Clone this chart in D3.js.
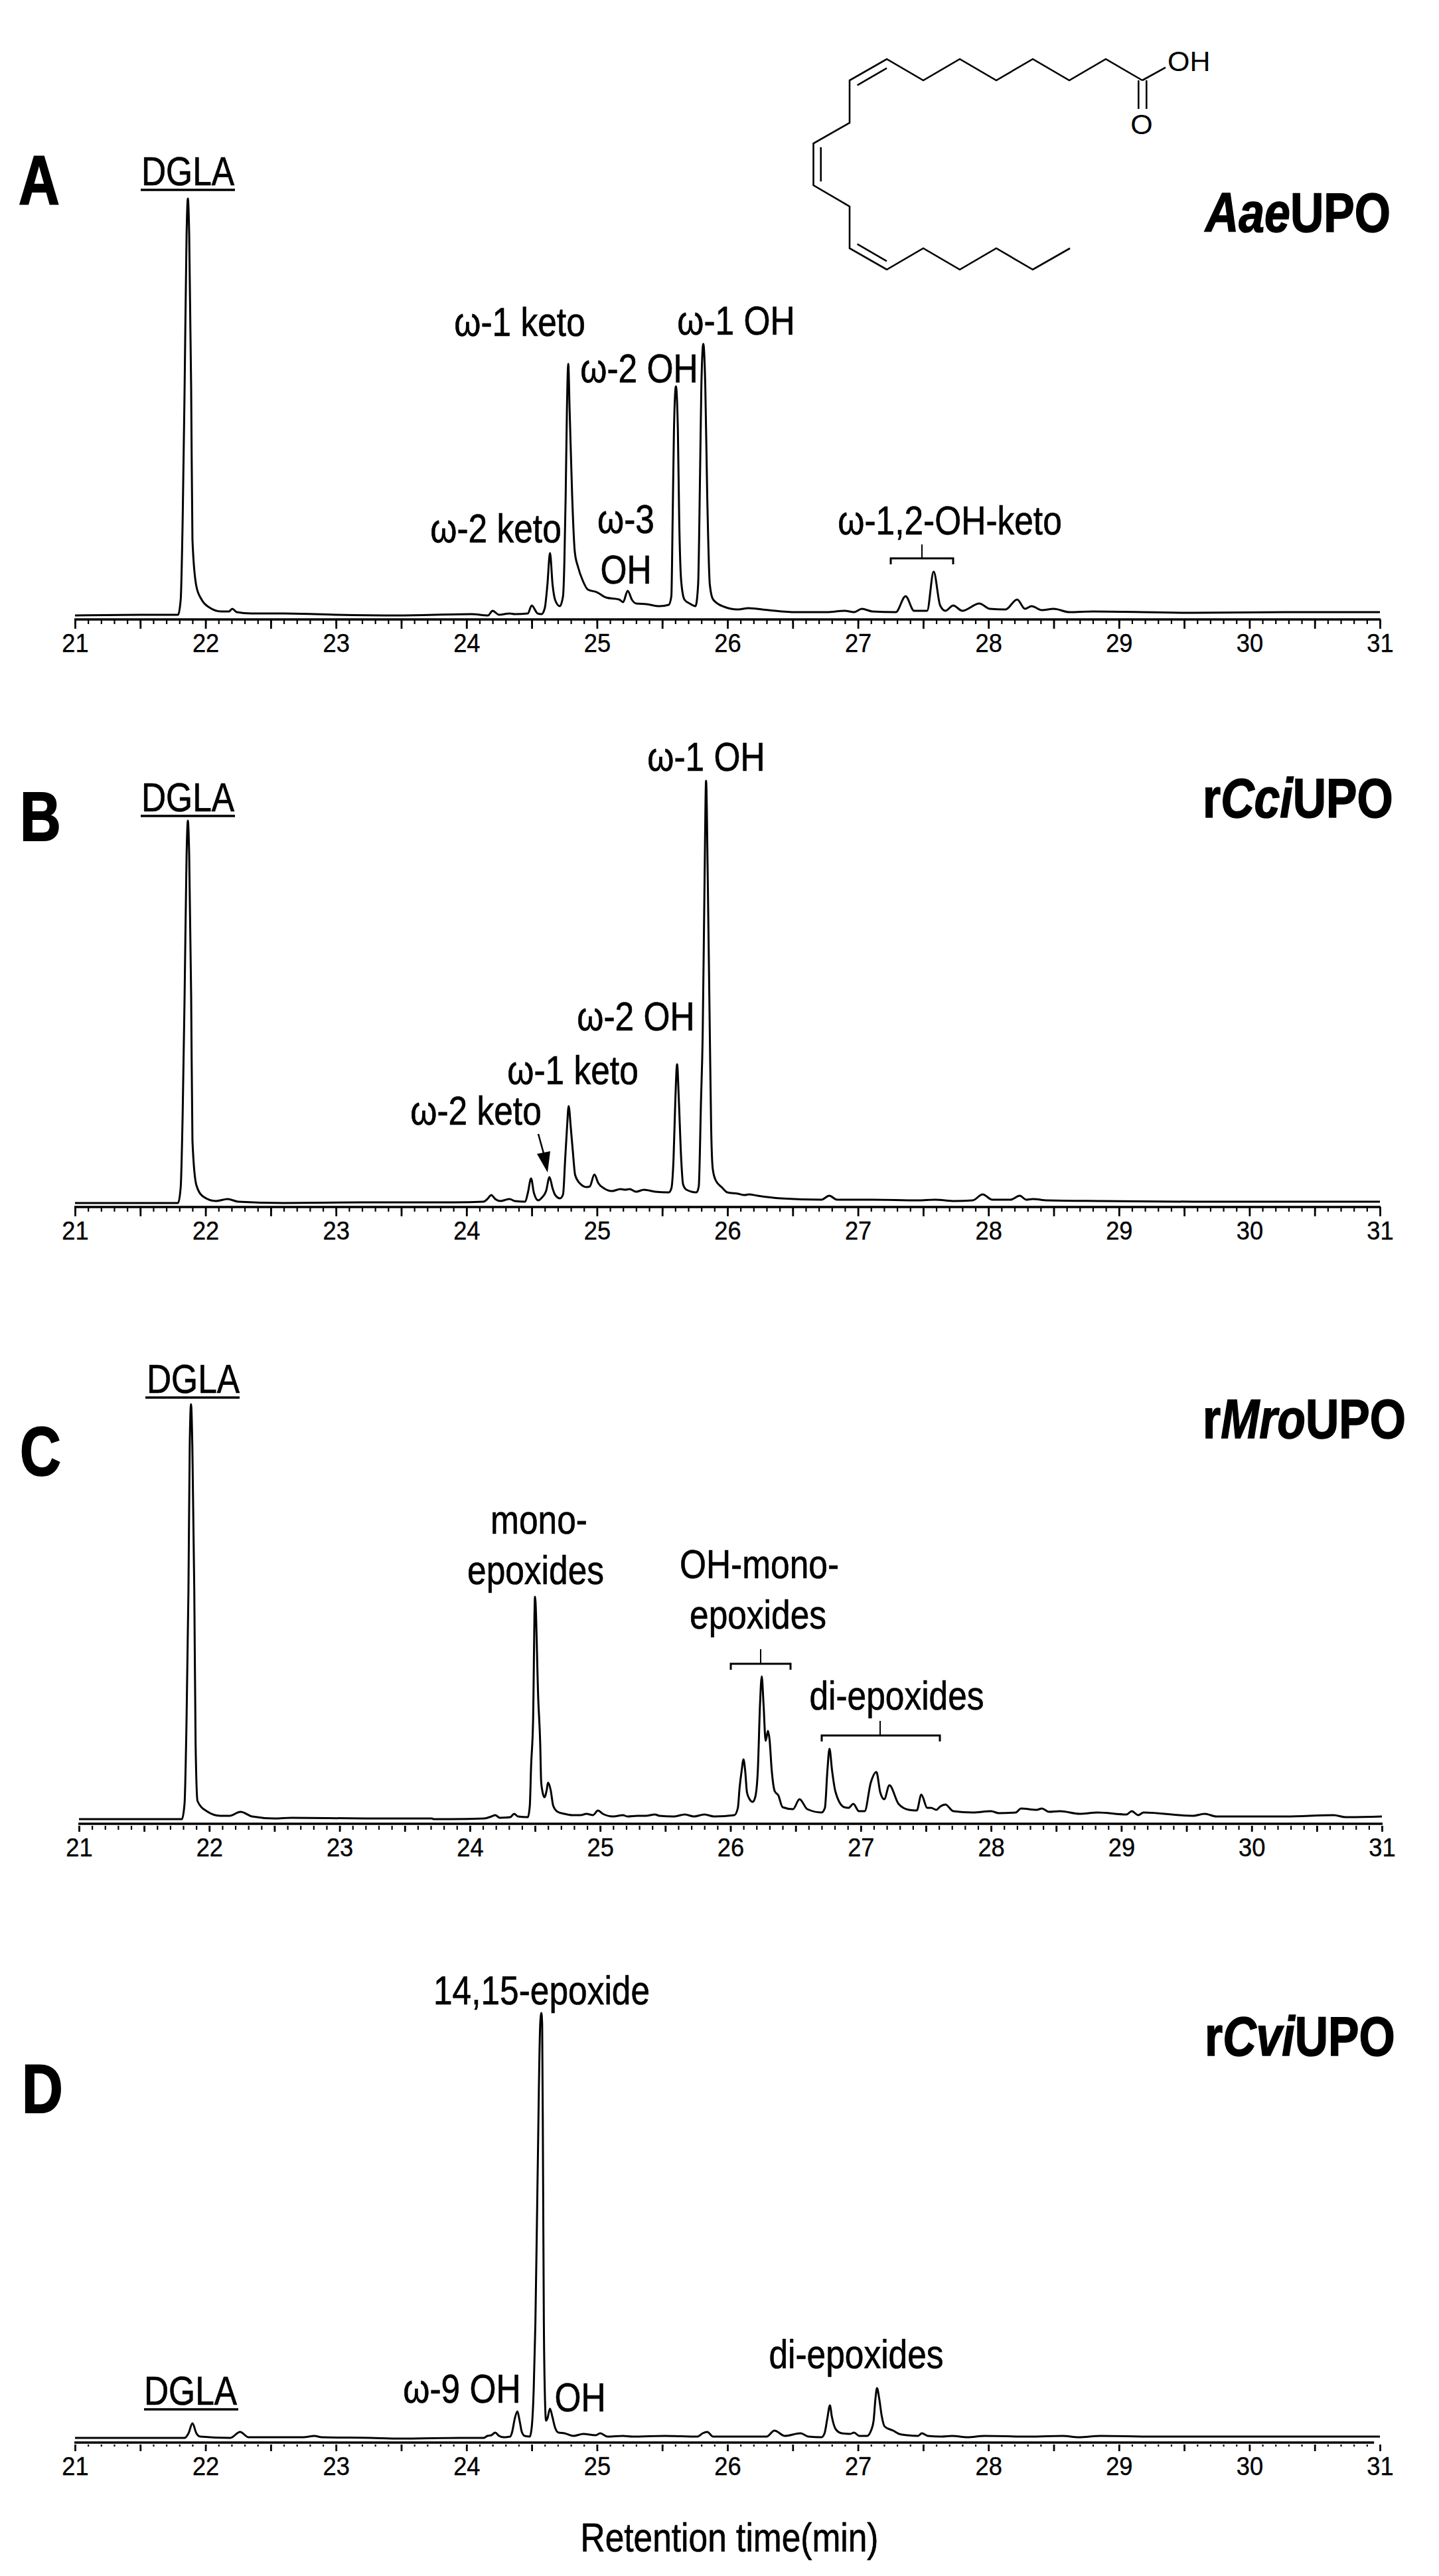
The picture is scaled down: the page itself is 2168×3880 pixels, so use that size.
<!DOCTYPE html>
<html>
<head>
<meta charset="utf-8">
<style>
html, body { margin: 0; padding: 0; background: #fff; }
svg { display: block; }
text { font-family: "Liberation Sans", Arial, sans-serif; fill: #000; }
.trace { fill: none; stroke: #000; stroke-width: 3; stroke-linejoin: round; }
.axisline { stroke: #000; stroke-width: 3.4; }
.tick line { stroke: #000; }
</style>
<script src="https://cdn.jsdelivr.net/npm/d3@7"></script>
</head>
<body>
<div id="chart"></div>
<script>
// retention time (min), signal (arbitrary units)
var traceA = [[21,6],[21.5,7],[21.79,7],[21.81,30],[21.825,150],[21.84,350],[21.855,580],[21.865,634],[21.875,580],[21.89,350],[21.9,120],[21.93,50],[21.97,30],[22.03,18],[22.12,12],[22.18,12],[22.205,16],[22.24,11],[22.35,9],[22.6,9],[23,7],[23.47,6],[24.04,8],[24.165,6],[24.2,13],[24.25,7],[24.33,9],[24.37,8],[24.47,9],[24.5,21],[24.545,9],[24.575,8],[24.6,17],[24.62,52],[24.64,100],[24.66,52],[24.68,29],[24.715,20],[24.74,35],[24.75,85],[24.76,185],[24.77,319],[24.78,385],[24.79,319],[24.81,185],[24.83,102],[24.855,79],[24.89,59],[24.93,45],[25,41],[25.07,33],[25.17,30],[25.2,26],[25.235,43],[25.27,29],[25.3,24],[25.38,23],[25.48,20],[25.55,22],[25.57,35],[25.58,152],[25.59,285],[25.605,351],[25.62,285],[25.63,152],[25.645,59],[25.67,30],[25.71,24],[25.755,20],[25.775,52],[25.79,219],[25.8,352],[25.815,415],[25.83,352],[25.845,185],[25.865,52],[25.89,30],[25.975,19],[26.08,15],[26.16,17],[26.315,14],[26.525,11],[26.76,11],[26.9,13],[26.97,11],[27.03,16],[27.11,12],[27.29,11],[27.365,35],[27.43,13],[27.53,13],[27.58,72],[27.63,21],[27.67,13],[27.73,21],[27.8,13],[27.93,24],[28.01,16],[28.13,15],[28.22,30],[28.28,16],[28.33,20],[28.41,14],[28.5,16],[28.62,11],[28.8,12],[29.57,10],[30.27,11],[31,11]];

var traceB = [[21,6],[21.5,6],[21.79,6],[21.81,30],[21.825,140],[21.84,320],[21.855,530],[21.865,582],[21.875,530],[21.89,320],[21.9,100],[21.93,33],[21.98,16],[22.08,9],[22.17,12],[22.25,8],[22.6,6],[23.2,7],[23.57,7],[23.91,7],[24.13,8],[24.16,12],[24.19,18],[24.22,12],[24.26,9],[24.33,12],[24.37,9],[24.45,8],[24.47,21],[24.495,43],[24.517,21],[24.55,10],[24.577,14],[24.61,24],[24.636,45],[24.66,28],[24.68,18],[24.717,13],[24.74,19],[24.756,71],[24.77,118],[24.783,152],[24.8,118],[24.815,84],[24.833,48],[24.867,36],[24.92,30],[24.945,31],[24.98,49],[25.01,36],[25.055,28],[25.115,24],[25.18,27],[25.217,26],[25.25,27],[25.3,23],[25.36,26],[25.447,23],[25.55,22],[25.57,28],[25.587,74],[25.6,158],[25.614,215],[25.628,158],[25.645,74],[25.66,34],[25.686,26],[25.763,22],[25.78,31],[25.797,158],[25.81,258],[25.825,500],[25.836,642],[25.85,480],[25.865,258],[25.875,120],[25.887,58],[25.908,41],[25.96,29],[26,22],[26.08,20],[26.13,18],[26.165,19],[26.23,17],[26.41,13],[26.72,11],[26.78,17],[26.84,11],[27.11,11],[27.46,10],[27.59,11],[27.74,9],[27.88,10],[27.955,19],[28.03,11],[28.17,11],[28.24,17],[28.29,11],[28.34,12],[28.45,10],[28.87,9],[29.57,8],[30.27,8],[31,8]];

var traceC = [[21,7],[21.5,7],[21.79,7],[21.81,30],[21.825,150],[21.84,350],[21.85,570],[21.86,632],[21.87,570],[21.885,350],[21.895,120],[21.91,34],[21.98,19],[22.085,12],[22.155,12],[22.24,18],[22.33,11],[22.5,8],[22.63,9],[23.2,8],[23.71,8],[23.72,7],[23.85,7],[24.11,8],[24.165,11],[24.195,13],[24.23,9],[24.31,10],[24.34,15],[24.37,11],[24.445,10],[24.46,27],[24.47,87],[24.485,154],[24.5,342],[24.525,187],[24.54,120],[24.547,64],[24.555,51],[24.572,40],[24.59,51],[24.6,62],[24.62,51],[24.64,27],[24.674,18],[24.725,15],[24.785,13],[24.85,13],[24.895,15],[24.945,13],[24.983,20],[25.02,15],[25.1,11],[25.175,13],[25.21,11],[25.285,12],[25.35,12],[25.42,14],[25.455,12],[25.565,11],[25.65,14],[25.72,11],[25.8,14],[25.875,11],[26.03,13],[26.057,24],[26.07,54],[26.086,80],[26.1,97],[26.113,80],[26.127,47],[26.147,37],[26.17,33],[26.19,40],[26.21,80],[26.227,180],[26.24,222],[26.254,180],[26.27,125],[26.288,140],[26.3,127],[26.317,80],[26.34,49],[26.367,43],[26.4,25],[26.48,22],[26.53,37],[26.59,22],[26.7,17],[26.725,24],[26.744,80],[26.76,113],[26.78,80],[26.805,49],[26.873,25],[26.907,24],[26.943,30],[26.986,19],[27.03,19],[27.077,62],[27.12,78],[27.15,47],[27.18,37],[27.22,58],[27.29,30],[27.37,21],[27.43,20],[27.465,44],[27.51,24],[27.54,24],[27.58,21],[27.61,26],[27.65,29],[27.71,19],[27.86,17],[28,19],[28.06,16],[28.19,17],[28.23,23],[28.35,21],[28.39,23],[28.445,18],[28.53,19],[28.68,15],[28.82,17],[29.04,14],[29.08,19],[29.13,13],[29.17,17],[29.55,12],[29.64,15],[29.73,11],[30.26,11],[30.63,13],[30.72,10],[31,11]];

var traceD = [[21,7],[21.84,7],[21.87,14],[21.9,29],[21.93,14],[21.96,9],[22.19,7],[22.265,16],[22.33,8],[22.75,8],[22.835,10],[22.89,8],[23.27,7],[23.49,6],[23.95,7],[24.13,7],[24.16,10],[24.19,11],[24.22,15],[24.25,10],[24.285,8],[24.335,9],[24.35,16],[24.37,36],[24.39,47],[24.407,33],[24.424,16],[24.446,10],[24.485,9],[24.5,23],[24.515,79],[24.528,179],[24.545,400],[24.565,630],[24.574,647],[24.58,630],[24.587,400],[24.593,179],[24.6,79],[24.61,33],[24.62,36],[24.64,51],[24.658,39],[24.678,23],[24.705,15],[24.75,14],[24.82,10],[24.895,13],[24.99,11],[25.025,14],[25.08,9],[25.2,10],[25.27,9],[25.52,10],[25.77,9],[25.81,14],[25.845,16],[25.89,9],[26.3,9],[26.36,18],[26.44,10],[26.56,14],[26.62,9],[26.72,8],[26.744,14],[26.765,36],[26.785,56],[26.8,39],[26.83,20],[26.875,14],[26.94,13],[26.97,15],[27.01,10],[27.07,10],[27.1,18],[27.12,33],[27.134,66],[27.146,82],[27.163,66],[27.183,39],[27.205,24],[27.27,18],[27.315,13],[27.38,11],[27.46,10],[27.49,14],[27.535,10],[27.64,9],[27.72,10],[27.84,8],[27.97,10],[28.315,9],[28.57,10],[28.69,8],[28.86,10],[29.26,9],[30,9],[31,9]];

var majorTicks = d3.range(21, 31.01, 0.5);
var minorTicks = d3.range(21, 31.01, 0.1);
var enzymesA = [["", "Aae", "UPO"]];
var enzymesB = [["r", "Cci", "UPO"]];
var enzymesC = [["r", "Mro", "UPO"]];
var enzymesD = [["r", "Cvi", "UPO"]];

// layout of the annotations, page pixels
var peakLabelsA = [["DGLA",283,279],["\u03c9-1 keto",783,506],["\u03c9-2 OH",963,576],["\u03c9-1 OH",1109,504],["\u03c9-2 keto",747,817],["\u03c9-3",943,803],["OH",943,879],["\u03c9-1,2-OH-keto",1431,805]];
var peakLabelsB = [["DGLA",283,1222],["\u03c9-1 OH",1064,1161],["\u03c9-2 OH",958,1552],["\u03c9-1 keto",863,1633],["\u03c9-2 keto",717,1694]];
var peakLabelsC = [["DGLA",291,2098],["mono-",812,2310],["epoxides",807,2386],["OH-mono-",1144,2377],["epoxides",1142,2453],["di-epoxides",1351,2575]];
var peakLabelsD = [["14,15-epoxide",816,3019],["DGLA",287,3622],["\u03c9-9 OH",696,3619],["OH",874,3632],["di-epoxides",1290,3567]];

var panels = [
  { letter: "A", letterX: 28, letterY: 307, name: enzymesA[0], nameX: 1816, nameY: 349, trace: traceA, labels: peakLabelsA,
    axisY: 933, x0: 113, x1: 2079, end: 31, gap: 0, majorLen: 14, minorLen: 7, underline: [212, 354, 286],
    brackets: [[1342, 1436, 841, 850, 1389, 820]] },
  { letter: "B", letterX: 30, letterY: 1266, name: enzymesB[0], nameX: 1812, nameY: 1231, trace: traceB, labels: peakLabelsB,
    axisY: 1818, x0: 113, x1: 2079, end: 31, gap: 0, majorLen: 14, minorLen: 7, underline: [212, 354, 1229], brackets: [] },
  { letter: "C", letterX: 30, letterY: 2222, name: enzymesC[0], nameX: 1812, nameY: 2166, trace: traceC, labels: peakLabelsC,
    axisY: 2747, x0: 119, x1: 2082, end: 31, gap: 3, majorLen: 9, minorLen: 6, underline: [219, 361, 2105],
    brackets: [[1101, 1191, 2506, 2515, 1146, 2484], [1238, 1416, 2614, 2623, 1326, 2592]] },
  { letter: "D", letterX: 33, letterY: 3182, name: enzymesD[0], nameX: 1815, nameY: 3096, trace: traceD, labels: peakLabelsD,
    axisY: 3679, x0: 113, x1: 2079, end: 30.95, gap: 3, majorLen: 10, minorLen: 3, underline: [217, 359, 3629], brackets: [] }
];

var svg = d3.select("#chart").append("svg").attr("width", 2168).attr("height", 3880);

var squeeze = 0.83; // the figure's lettering is narrow, same look as Arial Narrow

function label(text, cx, y, size) {
  return svg.append("text")
    .attr("transform", "translate(" + cx + "," + y + ") scale(" + squeeze + ",1)")
    .attr("text-anchor", "middle")
    .attr("font-size", size)
    .attr("stroke", "#000").attr("stroke-width", 0.7)
    .text(text);
}

panels.forEach(function(p) {
  var x = d3.scaleLinear().domain([21, 31]).range([p.x0, p.x1]);
  var y = d3.scaleLinear().domain([0, 700]).range([p.axisY, p.axisY - 700]);

  var line = d3.line()
    .x(function(d) { return x(d[0]); })
    .y(function(d) { return y(d[1]); })
    .curve(d3.curveMonotoneX);

  svg.append("path").datum(p.trace).attr("class", "trace").attr("d", line);

  // axis line is drawn on its own, panel D stops a little short
  svg.append("line").attr("class", "axisline")
    .attr("x1", x(21) - 1).attr("x2", x(p.end) + 1)
    .attr("y1", y(0)).attr("y2", y(0));

  var minor = d3.axisBottom(x).tickValues(minorTicks).tickFormat("").tickSizeOuter(0);
  var gMinor = svg.append("g").attr("transform", "translate(0," + p.axisY + ")").call(minor);
  gMinor.select(".domain").remove();
  gMinor.selectAll(".tick line")
    .attr("y1", p.gap).attr("y2", p.gap + p.minorLen).attr("stroke-width", 2.2);

  var major = d3.axisBottom(x).tickValues(majorTicks).tickSizeOuter(0)
    .tickFormat(function(d) { return d % 1 === 0 ? d : ""; });
  var gMajor = svg.append("g").attr("transform", "translate(0," + p.axisY + ")").call(major);
  gMajor.select(".domain").remove();
  gMajor.selectAll(".tick line")
    .attr("y1", p.gap).attr("y2", p.gap + p.majorLen).attr("stroke-width", 2.8);
  gMajor.selectAll(".tick text")
    .attr("y", 49).attr("dy", 0)
    .attr("transform", "scale(0.93,1)")
    .attr("font-size", 39)
    .attr("font-family", "Liberation Sans")
    .attr("stroke", "#000").attr("stroke-width", 0.4)
    .attr("fill", "#000");
  // scale() above would pull the number off its tick, so put it back
  gMajor.selectAll(".tick").each(function() {
    d3.select(this).select("text").attr("x", 0);
  });

  // panel letter
  svg.append("text")
    .attr("transform", "translate(" + p.letterX + "," + p.letterY + ") scale(" + squeeze + ",1)")
    .attr("font-size", 103).attr("font-weight", "bold")
    .attr("stroke", "#000").attr("stroke-width", 2).text(p.letter);

  // enzyme name, species part in italics
  var nm = svg.append("text")
    .attr("transform", "translate(" + p.nameX + "," + p.nameY + ") scale(" + squeeze + ",1)")
    .attr("font-size", 84).attr("font-weight", "bold")
    .attr("stroke", "#000").attr("stroke-width", 1.5);
  nm.append("tspan").text(p.name[0]);
  nm.append("tspan").attr("font-style", "italic").text(p.name[1]);
  nm.append("tspan").text(p.name[2]);

  p.labels.forEach(function(l) { label(l[0], l[1], l[2], 62); });

  svg.append("line").attr("stroke", "#000").attr("stroke-width", 3.6)
    .attr("x1", p.underline[0]).attr("x2", p.underline[1])
    .attr("y1", p.underline[2]).attr("y2", p.underline[2]);

  p.brackets.forEach(function(b) {
    svg.append("path").attr("fill", "none").attr("stroke", "#000").attr("stroke-width", 3)
      .attr("d", "M" + b[0] + "," + b[3] + "V" + b[2] + "H" + b[1] + "V" + b[3]);
    svg.append("line").attr("stroke", "#000").attr("stroke-width", 2)
      .attr("x1", b[4]).attr("x2", b[4]).attr("y1", b[5]).attr("y2", b[2]);
  });
});

// arrow to the omega-2 keto peak in B
svg.append("line").attr("stroke", "#000").attr("stroke-width", 2.5)
  .attr("x1", 811).attr("y1", 1708).attr("x2", 819).attr("y2", 1737);
svg.append("path").attr("d", "M809,1738L829,1734L825,1766Z").attr("fill", "#000");

label("Retention time(min)", 1099, 3843, 62);

// DGLA skeleton in panel A
var skeleton = [[1721,121],[1666,89],[1611,121],[1556,89],[1501,121],[1446,89],[1391,121],[1336,89],[1280,121],[1280,185],[1225.5,216],[1225.5,279],[1280,311],[1280,374],[1336,406],[1391,374],[1446,406],[1501,374],[1556,406],[1612,374]];
var innerBonds = [[[1291.6,128.3],[1336,102.7]],[[1236.7,221.7],[1236.7,273.3]],[[1291.6,367.7],[1336,393.3]],[[1715.3,121],[1715.3,164]],[[1727.3,121],[1727.3,164]],[[1721,121],[1756,101.7]]];

var mol = svg.append("g").attr("fill", "none").attr("stroke", "#000").attr("stroke-width", 2.6);
mol.append("path").attr("d", d3.line()(skeleton));
innerBonds.forEach(function(b) { mol.append("path").attr("d", d3.line()(b)); });

svg.append("text").attr("x", 1759).attr("y", 107).attr("font-size", 43).text("OH");
svg.append("text").attr("x", 1720).attr("y", 202).attr("text-anchor", "middle").attr("font-size", 43).text("O");
</script>
</body>
</html>
